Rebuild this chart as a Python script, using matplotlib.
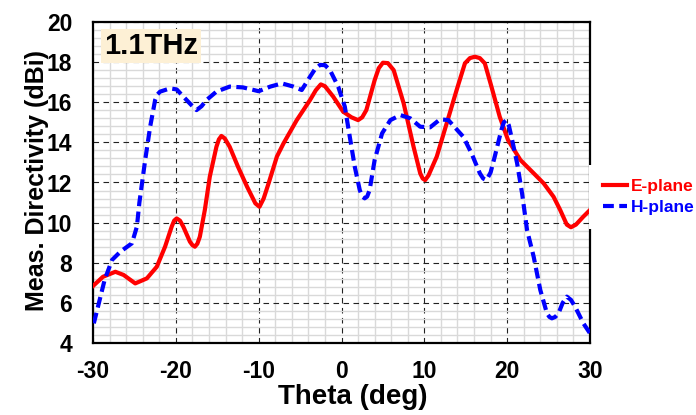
import matplotlib
matplotlib.use("Agg")
import matplotlib.pyplot as plt
from matplotlib.ticker import MultipleLocator

# ---- data (1.1 THz) ----
theta_e = [-30.0, -28.8, -27.3, -26.3, -24.9, -23.5, -22.3, -21.3, -20.5, -20.2,
           -19.9, -19.5, -19.1, -18.3, -18.0, -17.7, -17.4, -17.1, -16.5, -15.9,
           -15.1, -14.8, -14.5, -14.1, -13.5, -12.5, -11.4, -10.4, -9.9, -9.4,
           -8.8, -7.8, -7.0, -5.4, -3.8, -3.1, -2.5, -2.0, -1.0, 0.2,
           1.2, 2.0, 2.5, 3.0, 4.0, 4.5, 5.0, 5.6, 6.3, 7.5,
           8.7, 9.5, 9.8, 10.1, 10.5, 11.5, 12.7, 13.9, 14.9, 15.5,
           16.1, 16.7, 17.3, 18.1, 19.1, 20.1, 21.6, 23.2, 24.4, 25.6,
           26.4, 27.2, 27.7, 28.3, 29.2, 30.0]
e_plane = [6.84, 7.30, 7.55, 7.39, 6.97, 7.22, 7.80, 8.80, 9.80, 10.10,
           10.21, 10.10, 9.80, 9.05, 8.88, 8.80, 8.95, 9.30, 10.63, 12.29,
           13.78, 14.15, 14.32, 14.20, 13.78, 12.79, 11.79, 10.96, 10.79, 11.20,
           11.96, 13.29, 13.95, 15.11, 16.11, 16.60, 16.89, 16.80, 16.28, 15.53,
           15.25, 15.11, 15.25, 15.61, 17.10, 17.70, 17.97, 17.95, 17.60, 15.95,
           13.78, 12.46, 12.20, 12.12, 12.35, 13.29, 14.95, 16.61, 17.94, 18.20,
           18.27, 18.20, 17.94, 16.78, 15.28, 14.12, 13.12, 12.46, 11.96, 11.29,
           10.63, 9.90, 9.77, 9.90, 10.30, 10.63]

theta_h = [-29.9, -29.2, -28.6, -27.7, -26.7, -25.3, -24.7, -24.4, -23.7, -23.1,
           -22.5, -22.2, -21.9, -20.7, -19.9, -18.7, -18.1, -17.5, -16.9, -16.3,
           -15.1, -13.5, -11.9, -10.0, -8.6, -7.2, -5.8, -4.8, -3.8, -3.2,
           -2.6, -2.0, -1.4, -0.4, 0.4, 1.0, 1.6, 2.2, 2.5, 2.8,
           3.1, 3.4, 4.0, 4.9, 5.9, 7.1, 8.3, 9.5, 10.7, 11.9,
           12.9, 14.7, 15.7, 16.7, 17.1, 17.5, 18.0, 18.5, 19.3, 19.6,
           19.9, 20.2, 20.6, 21.2, 21.8, 22.4, 23.2, 24.0, 24.8, 25.1,
           25.4, 25.8, 26.2, 26.7, 27.2, 27.7, 28.2, 29.2, 30.0]
h_plane = [4.98, 6.14, 7.14, 8.14, 8.55, 8.97, 9.80, 11.00, 13.12, 14.78,
           16.11, 16.40, 16.53, 16.69, 16.64, 16.11, 15.85, 15.61, 15.80, 16.11,
           16.53, 16.78, 16.74, 16.55, 16.78, 16.94, 16.78, 16.61, 17.27, 17.65,
           17.86, 17.85, 17.61, 16.78, 15.78, 14.28, 12.79, 11.63, 11.30, 11.21,
           11.30, 11.63, 13.12, 14.45, 15.11, 15.36, 15.20, 14.78, 14.75, 15.15,
           15.11, 14.28, 13.45, 12.46, 12.20, 12.12, 12.50, 13.29, 14.62, 15.00,
           15.11, 14.85, 14.12, 12.96, 11.46, 9.63, 8.30, 6.64, 5.48, 5.30,
           5.23, 5.30, 5.48, 6.00, 6.31, 6.15, 5.81, 4.98, 4.48]

x_ticks = [-30, -20, -10, 0, 10, 20, 30]
y_ticks = [4, 6, 8, 10, 12, 14, 16, 18, 20]

plt.rcParams['font.family'] = ['Liberation Sans', 'DejaVu Sans']
plt.rcParams['font.weight'] = 'bold'
plt.rcParams['axes.unicode_minus'] = False

W, H = 696, 415
fig = plt.figure(figsize=(W / 100, H / 100), dpi=100)
ax = fig.add_axes([93 / W, 72 / H, 497 / W, 321 / H])

ax.plot(theta_e, e_plane, color='#FF0000', lw=3, solid_joinstyle='round',
        label='E-plane', zorder=3)
ax.plot(theta_h, h_plane, color='#0000FF', lw=3, dashes=(2.6, 1.3),
        dash_joinstyle='round', label='H-plane', zorder=4)

ax.set_xlim(-30, 30)
ax.set_ylim(4, 20)
ax.set_xticks(x_ticks)
ax.set_yticks(y_ticks)
ax.xaxis.set_minor_locator(MultipleLocator(2))
ax.yaxis.set_minor_locator(MultipleLocator(0.4))
ax.tick_params(which='both', length=0)
ax.tick_params(axis='x', labelsize=16.5, pad=12)
ax.tick_params(axis='y', labelsize=16.5, pad=15)

ax.set_axisbelow(True)
ax.grid(which='minor', color='#D9D9D9', lw=1.0, ls='-')
ax.grid(which='major', color='#222222', lw=0.8, ls=(0, (5, 4)))
for s in ax.spines.values():
    s.set_linewidth(1.6)
    s.set_color('black')

ax.set_xlabel('Theta (deg)', fontsize=20, fontweight='bold', va='center')
ax.xaxis.set_label_coords((353 - 93) / 497, (343 - 397) / 321)
ax.set_ylabel('Meas. Directivity (dBi)', fontsize=18, fontweight='bold', va='center')
ax.yaxis.set_label_coords((37 - 93) / 497, (343 - 180) / 321)

ax.text((151 - 93) / 497, (343 - 46) / 321, '1.1THz', transform=ax.transAxes,
        ha='center', va='center', fontsize=21, fontweight='bold', zorder=6,
        bbox=dict(boxstyle='square,pad=0.1', fc='#FDF0D5', ec='none'))

fig.legend(loc='center left', bbox_to_anchor=(589 / W, 1 - 197 / H),
           frameon=True, facecolor='white', edgecolor='none', framealpha=1,
           fancybox=False, borderpad=0.8, handlelength=1.4, handletextpad=0.2,
           labelspacing=0.3, borderaxespad=0,
           prop=dict(size=12.5, weight='bold'), labelcolor='linecolor')

fig.savefig('out.png', dpi=100)
